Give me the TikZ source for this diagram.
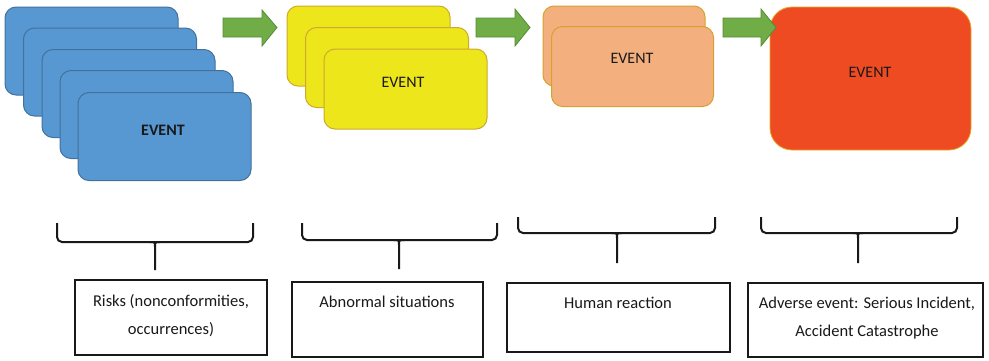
\documentclass[tikz,border=0pt]{standalone}
\usepackage{fontspec}
\setmainfont{Carlito}
\definecolor{bluefill}{RGB}{88,152,210}
\definecolor{blueline}{RGB}{65,113,156}
\definecolor{yelfill}{RGB}{236,230,26}
\definecolor{yelline}{RGB}{205,170,45}
\definecolor{orfill}{RGB}{243,176,126}
\definecolor{orline}{RGB}{214,162,45}
\definecolor{redfill}{RGB}{239,75,35}
\definecolor{redline}{RGB}{228,170,40}
\definecolor{grfill}{RGB}{112,173,71}
\definecolor{grline}{RGB}{84,140,52}
\definecolor{ink}{RGB}{25,25,25}
\tikzset{
  card/.style={draw, line width=1pt, rounded corners=11pt, inner sep=0pt},
  bluecard/.style={card, fill=bluefill, draw=blueline, minimum width=173pt, minimum height=88pt},
  yelcard/.style={card, fill=yelfill, draw=yelline, minimum width=163pt, minimum height=80pt},
  orcard/.style={card, fill=orfill, draw=orline, minimum width=162pt, minimum height=80pt},
  redcard/.style={card, fill=redfill, draw=redline, line width=0.8pt, rounded corners=22pt, minimum width=201pt, minimum height=143pt},
  evtext/.style={font=\fontsize{16}{19}\selectfont, text=ink, inner sep=0pt},
  blockarrow/.style={fill=grfill, draw=grline, line width=0.8pt},
  bracestyle/.style={draw=ink, line width=2pt, rounded corners=5pt},
  stemstyle/.style={draw=ink, line width=2pt},
  lblbox/.style={draw=ink, line width=1.2pt, inner sep=0pt},
  lbltext/.style={font=\fontsize{16.5}{28}\selectfont, text=ink, align=center, inner sep=0pt, anchor=north}
}
\begin{document}
\begin{tikzpicture}[x=1pt, y=-1pt]
\useasboundingbox (0,0) rectangle (989,360);
% blue stack
\node[bluecard] (b1) at (91.5,51) {};
\node[bluecard] (b2) at (110,72) {};
\node[bluecard] (b3) at (128.5,93.5) {};
\node[bluecard] (b4) at (146.5,114.5) {};
\node[bluecard] (b5) at (164.5,136.5) {};
\node[evtext, font=\fontsize{16}{19}\selectfont\bfseries] (e1) at (163,130) {EVENT};
% yellow stack
\node[yelcard] (y1) at (368.5,46) {};
\node[yelcard] (y2) at (387,67.5) {};
\node[yelcard] (y3) at (405.5,89) {};
\node[evtext] (e2) at (403,82) {EVENT};
% orange stack
\node[orcard] (o1) at (624,46) {};
\node[orcard] (o2) at (632.5,66.5) {};
\node[evtext] (e3) at (632,58) {EVENT};
% red box
\node[redcard] (r1) at (870.5,78.5) {};
\node[evtext] (e4) at (870,72) {EVENT};
% green arrows
\path[blockarrow] (223,18) -- (262,18) -- (262,10) -- (277,27.5) -- (262,46) -- (262,37) -- (223,37) -- cycle;
\path[blockarrow] (476,18) -- (515,18) -- (515,9) -- (530,27.5) -- (515,46) -- (515,37) -- (476,37) -- cycle;
\path[blockarrow] (723,18) -- (761,18) -- (761,9) -- (776,27.5) -- (761,46) -- (761,37) -- (723,37) -- cycle;
% braces
\path[bracestyle] (57,223) -- (57,242) -- (253,242) -- (253,223);
\path[stemstyle] (150,242) .. controls (155,242) .. (155,247) -- (155,270);
\path[stemstyle] (160,242) .. controls (155,242) .. (155,247);
\path[bracestyle] (302,223) -- (302,240) -- (497,240) -- (497,223);
\path[stemstyle] (394,240) .. controls (399,240) .. (399,245) -- (399,269);
\path[stemstyle] (404,240) .. controls (399,240) .. (399,245);
\path[bracestyle] (518,217) -- (518,233) -- (715,233) -- (715,217);
\path[stemstyle] (612,233) .. controls (617,233) .. (617,238) -- (617,263);
\path[stemstyle] (622,233) .. controls (617,233) .. (617,238);
\path[bracestyle] (761,217) -- (761,233) -- (957,233) -- (957,217);
\path[stemstyle] (853,233) .. controls (858,233) .. (858,238) -- (858,263);
\path[stemstyle] (863,233) .. controls (858,233) .. (858,238);
% label boxes
\node[lblbox, minimum width=192pt, minimum height=75pt] (l1) at (171,317.5) {};
\node[lblbox, minimum width=191pt, minimum height=75pt] (l2) at (387.5,319.5) {};
\node[lblbox, minimum width=223pt, minimum height=69pt] (l3) at (618.5,317.5) {};
\node[lblbox, minimum width=235pt, minimum height=74pt] (l4) at (865.5,320) {};
\node[lbltext] (t1) at (171,293) {\rule{0pt}{13pt}Risks (nonconformities,\\occurrences)};
\node[lbltext] (t2) at (387,294) {\rule{0pt}{13pt}Abnormal situations};
\node[lbltext] (t3) at (618,295) {\rule{0pt}{13pt}Human reaction};
\node[lbltext] (t4) at (867,295) {\rule{0pt}{13pt}Adverse event: Serious Incident,\\Accident Catastrophe};
\end{tikzpicture}
\end{document}
